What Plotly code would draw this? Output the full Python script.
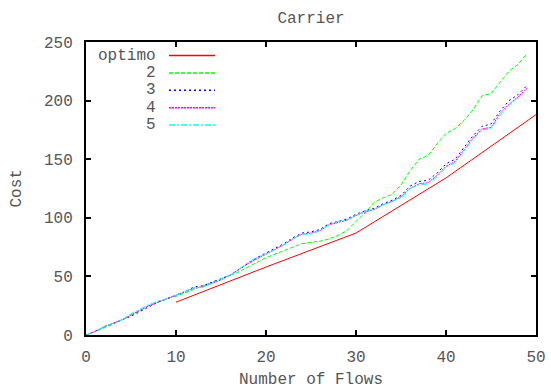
import plotly.graph_objects as go

# ---- data -------------------------------------------------------------
flows = list(range(50))

optimo_x = [10, 20, 30, 40, 50]
optimo_y = [28, 58, 87, 134, 188]

cost_2 = [0, 3, 6, 9, 13, 17, 21, 25, 28, 31, 33, 36, 39, 42, 45, 48, 51, 54, 58, 62,
          66, 69, 72, 75, 78, 79, 80, 82, 85, 89, 97, 104, 113, 117, 120, 128, 140, 150, 153, 163,
          172, 176, 183, 192, 204, 206, 216, 225, 231, 240]
cost_3 = [0, 3, 7, 10, 13, 16, 20, 24, 28, 31, 34, 37, 41, 42, 45, 48, 51, 56, 61, 66,
          70, 74, 78, 83, 87, 88, 90, 95, 97, 99, 103, 106, 108, 112, 115, 119, 127, 131, 132, 138,
          146, 150, 160, 170, 178, 180, 191, 200, 205, 213]
cost_4 = [0, 3, 7, 10, 13, 17, 21, 25, 28, 31, 34, 37, 40, 41, 44, 47, 51, 56, 61, 65,
          69, 73, 77, 82, 86, 87, 89, 94, 96, 98, 102, 105, 107, 111, 114, 118, 125, 129, 130, 136,
          144, 148, 158, 168, 176, 177, 189, 197, 203, 211]
cost_5 = [0, 3, 7, 10, 13, 18, 22, 26, 29, 31, 34, 37, 40, 41, 44, 48, 51, 56, 62, 66,
          69, 73, 77, 82, 86, 86, 89, 94, 97, 98, 102, 106, 107, 111, 114, 117, 125, 128, 129, 135,
          143, 147, 157, 167, 175, 176, 187, 196, 202, 210]

x_ticks = [0, 10, 20, 30, 40, 50]
y_ticks = [0, 50, 100, 150, 200, 250]

# ---- style ------------------------------------------------------------
FONT = "Liberation Mono"
TEXT = "#555555"
FS = 16

series = [
    ("optimo", optimo_x, optimo_y, "#ff0000", "solid"),
    ("2", flows, cost_2, "#00ff00", "4px,2px"),
    ("3", flows, cost_3, "#0000ff", "2px,3px"),
    ("4", flows, cost_4, "#ff00ff", "2px,1px"),
    ("5", flows, cost_5, "#00ffff", "6px,2px,2px,2px"),
]

W, H = 551, 390
L, R, T, B = 86, 15, 42, 55

fig = go.Figure()
for name, xs, ys, color, dash in series:
    fig.add_trace(go.Scatter(x=xs, y=ys, mode="lines", name=name, showlegend=False,
                             line=dict(color=color, width=1, dash=dash)))

# gnuplot-style key: right-aligned labels followed by a line sample
pw, ph = W - L - R, H - T - B
def px(xpix):
    return (xpix - L) / pw
def py(ypix):
    return (H - B - ypix) / ph

key_top, key_step = 55.5, 17.4
for i, (name, xs, ys, color, dash) in enumerate(series):
    yy = py(key_top + i * key_step)
    fig.add_annotation(x=px(158), y=yy, xref="paper", yref="paper", text=name,
                       showarrow=False, xanchor="right", yanchor="middle",
                       font=dict(family=FONT, size=FS, color=TEXT))
    fig.add_shape(type="line", xref="paper", yref="paper",
                  x0=px(169), x1=px(215), y0=yy, y1=yy,
                  line=dict(color=color, width=1.5, dash=dash))

axis_common = dict(showline=True, linecolor="black", linewidth=2, mirror="ticks",
                   ticks="inside", ticklen=5, tickwidth=2, tickcolor="black",
                   showgrid=False, zeroline=False, automargin=False,
                   tickfont=dict(family=FONT, size=FS, color=TEXT))

# axis titles placed as annotations so their positions are fixed
fig.add_annotation(x=0.5, y=-(380 - (H - B)) / ph, xref="paper", yref="paper",
                   text="Number of Flows", showarrow=False, xanchor="center", yanchor="middle",
                   font=dict(family=FONT, size=FS, color=TEXT))
fig.add_annotation(x=-(L - 16) / pw, y=0.5, xref="paper", yref="paper",
                   text="Cost", showarrow=False, textangle=-90, xanchor="center", yanchor="middle",
                   font=dict(family=FONT, size=FS, color=TEXT))

fig.update_layout(
    width=W, height=H,
    margin=dict(l=L, r=R, t=T, b=B, autoexpand=False),
    paper_bgcolor="white", plot_bgcolor="white",
    title=dict(text="Carrier", x=(L + pw / 2) / W, xanchor="center", y=1 - 17 / H, yanchor="middle",
               font=dict(family=FONT, size=FS, color=TEXT)),
    xaxis=dict(range=[0, 50], tickvals=x_ticks, ticktext=[str(v) for v in x_ticks],
               ticklabelstandoff=6, **axis_common),
    yaxis=dict(range=[0, 250], tickvals=y_ticks, ticktext=[str(v) for v in y_ticks],
               ticklabelstandoff=8, **axis_common),
)

fig.write_html("out.html")
